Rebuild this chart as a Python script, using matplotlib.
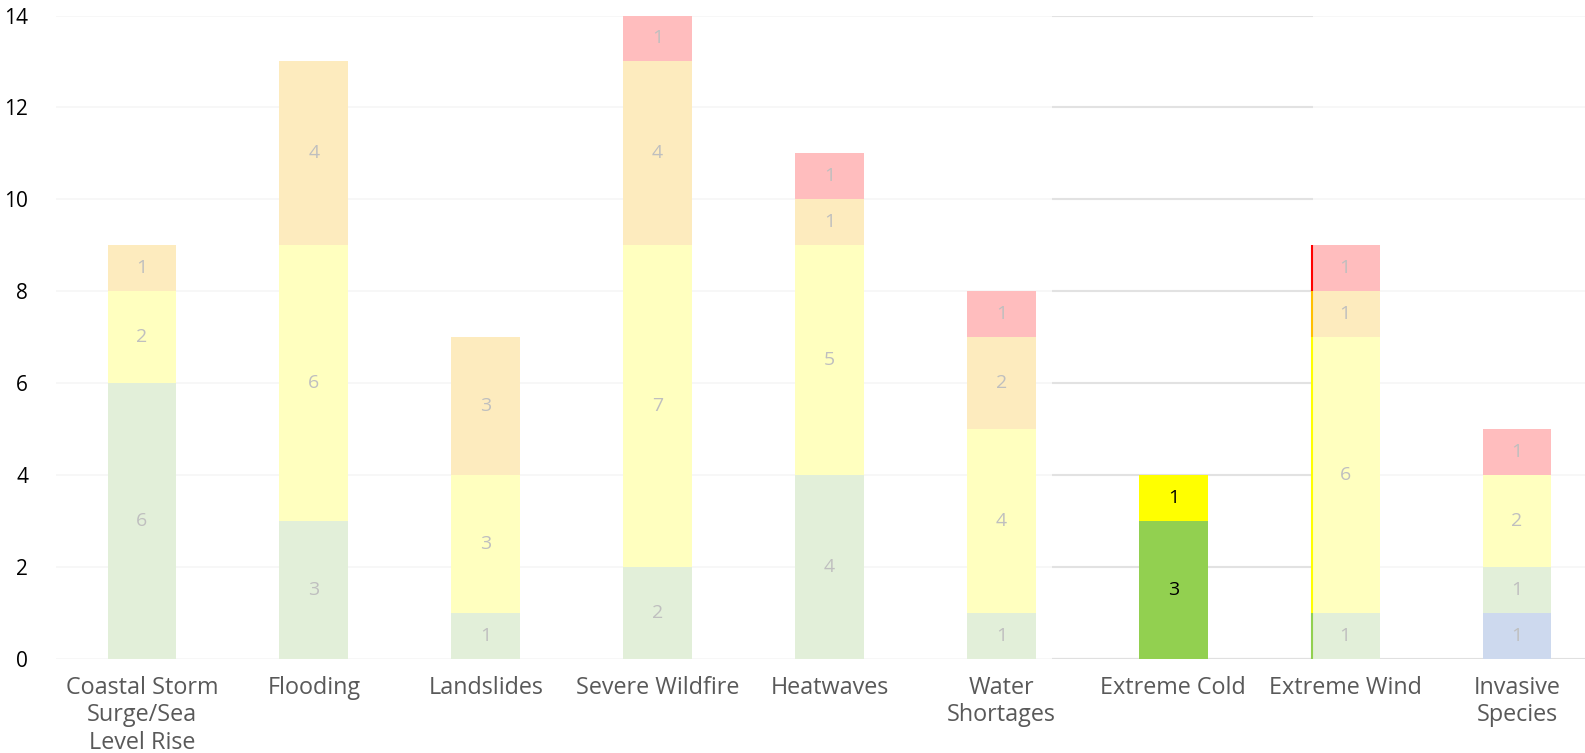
import matplotlib
matplotlib.use("Agg")
import matplotlib.pyplot as plt
import numpy as np

categories = ["Coastal Storm\nSurge/Sea\nLevel Rise", "Flooding", "Landslides",
              "Severe Wildfire", "Heatwaves", "Water\nShortages",
              "Extreme Cold", "Extreme Wind", "Invasive\nSpecies"]

# counts per rating level, bottom to top
blue = [0, 0, 0, 0, 0, 0, 0, 0, 1]
green = [6, 3, 1, 2, 4, 1, 3, 1, 1]
yellow = [2, 6, 3, 7, 5, 4, 1, 6, 2]
orange = [1, 4, 3, 4, 1, 2, 0, 1, 0]
red = [0, 0, 0, 1, 1, 1, 0, 1, 1]

yticks = [0, 2, 4, 6, 8, 10, 12, 14]

series = [blue, green, yellow, orange, red]
faded = ["#cdd9ee", "#e2efd9", "#ffffbf", "#fdebbe", "#ffbdbe"]
vivid = ["#4472c4", "#92d050", "#ffff00", "#ffc000", "#ff0000"]
highlight = 6  # Extreme Cold shown in full colour
edged = 7      # Extreme Wind has a coloured left edge

fig = plt.figure(figsize=(15.85, 7.53), dpi=100)
ax = fig.add_axes([56 / 1585, 1 - 659 / 753, 1 - 56 / 1585, (659 - 15.5) / 753])

x = np.arange(len(categories))
width = 0.40
bottom = np.zeros(len(categories))
for k, vals in enumerate(series):
    vals = np.array(vals, dtype=float)
    cols = [vivid[k] if i == highlight else faded[k] for i in range(len(x))]
    ax.bar(x, vals, width, bottom=bottom, color=cols, linewidth=0, zorder=3)
    for i, v in enumerate(vals):
        if v <= 0:
            continue
        tc = "black" if i == highlight else "#bfbfbf"
        ax.text(x[i], bottom[i] + v / 2, f"{int(v)}", ha="center", va="center",
                fontsize=14, color=tc, family="Open Sans", zorder=4)
        if i == edged:
            ax.vlines(x[i] - width / 2 + 0.004, bottom[i], bottom[i] + v,
                      color=vivid[k], linewidth=1.5, zorder=5)
    bottom += vals

# gridlines: faint everywhere, darker around the Extreme Cold column
for y in yticks:
    ax.axhline(y, color="#f6f6f6", linewidth=1.2, zorder=1)
    ax.hlines(y, 5.297, 6.815, color="#e2e2e2", linewidth=1.5, zorder=2)
ax.hlines(0, 5.297, 8.6, color="#e0e0e0", linewidth=1.5, zorder=2)

ax.set_xlim(-0.5, 8.395)
ax.set_ylim(0, 14)
ax.set_yticks(yticks)
ax.set_yticklabels([str(v) for v in yticks], fontsize=15, family="Open Sans")
ax.set_xticks(x)
ax.set_xticklabels(categories, fontsize=16.8, color="#595959", family="Open Sans",
                   linespacing=1.2)
ax.tick_params(axis="both", length=0)
ax.tick_params(axis="y", pad=20)
ax.tick_params(axis="x", pad=12)
for s in ax.spines.values():
    s.set_visible(False)

fig.savefig("out.png", dpi=100)
